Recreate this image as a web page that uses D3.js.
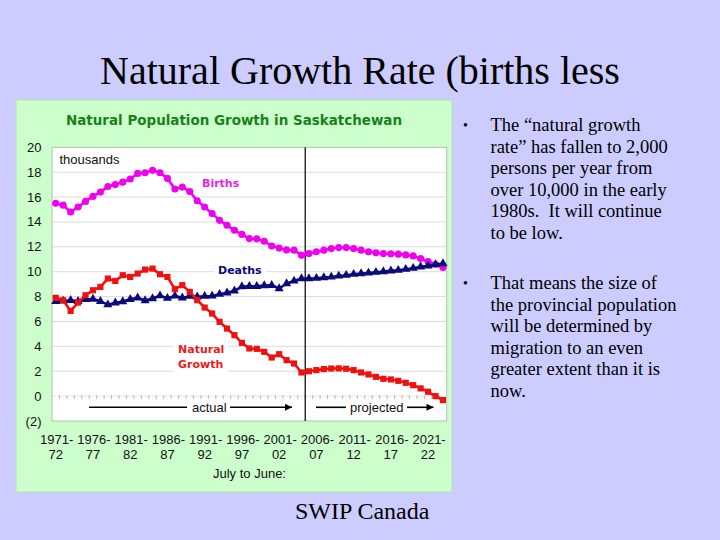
<!DOCTYPE html>
<html><head><meta charset="utf-8">
<script src="https://cdn.jsdelivr.net/npm/d3@7"></script>
<style>
html,body{margin:0;padding:0;background:#ccccff;}
svg{display:block;}
</style></head>
<body>
<svg id="c" width="720" height="540"></svg>
<script>
const years = d3.range(1971, 2024);
const births = [15.5,15.35,14.8,15.2,15.65,16.05,16.4,16.85,17.0,17.2,17.45,17.9,17.95,18.15,17.95,17.5,16.65,16.8,16.45,15.7,15.2,14.67,14.13,13.73,13.33,13.0,12.66,12.64,12.45,12.07,11.9,11.75,11.73,11.33,11.46,11.6,11.73,11.86,11.94,11.94,11.86,11.73,11.6,11.51,11.46,11.44,11.41,11.35,11.27,11.06,10.82,10.6,10.34];
const deaths = [7.62,7.65,7.7,7.62,7.77,7.8,7.62,7.35,7.5,7.6,7.78,7.9,7.68,7.84,8.07,7.87,8.05,7.9,8.03,7.98,8.03,8.05,8.19,8.3,8.46,8.8,8.83,8.83,8.89,8.91,8.65,9.05,9.26,9.45,9.45,9.48,9.53,9.58,9.66,9.72,9.8,9.85,9.9,9.96,10.01,10.07,10.12,10.2,10.28,10.39,10.47,10.58,10.66];
const naturalGrowth = [7.9,7.71,6.85,7.52,8.11,8.51,8.78,9.45,9.26,9.72,9.58,9.85,10.17,10.25,9.8,9.58,8.6,8.92,8.38,7.71,7.12,6.64,5.97,5.43,4.9,4.28,3.83,3.8,3.56,3.1,3.37,2.89,2.62,1.9,2.0,2.09,2.17,2.22,2.23,2.2,2.09,1.9,1.74,1.55,1.39,1.34,1.23,1.07,0.88,0.62,0.35,0.0,-0.32];
const yTicks = [20,18,16,14,12,10,8,6,4,2,0,-2];
const labelYears = [1971,1976,1981,1986,1991,1996,2001,2006,2011,2016,2021];
const firstProjected = 2005;
const bullets = [
  ["The \u201cnatural growth","rate\u201d has fallen to 2,000","persons per year from","over 10,000 in the early","1980s.  It will continue","to be low."],
  ["That means the size of","the provincial population","will be determined by","migration to an even","greater extent than it is","now."]
];

const svg = d3.select("#c");
const serif = "'Liberation Serif','Times New Roman',serif";
const sans = "'Liberation Sans',Arial,sans-serif";
const verd = "'DejaVu Sans',Verdana,sans-serif";

// slide title
svg.append("text").attr("x",360).attr("y",84).attr("text-anchor","middle")
  .attr("font-family",serif).attr("font-size",40).attr("fill","#000")
  .text("Natural Growth Rate (births less");

// chart panel
svg.append("rect").attr("x",16).attr("y",100).attr("width",436).attr("height",392)
  .attr("fill","#ccffcc").attr("stroke","#b8e0b8").attr("stroke-width",1);

svg.append("text").attr("x",66).attr("y",125).attr("font-family",verd).attr("font-weight","bold")
  .attr("font-size",14).attr("fill","#1a801a").attr("textLength",336).attr("lengthAdjust","spacingAndGlyphs")
  .text("Natural Population Growth in Saskatchewan");

const L=52, R=446.7, T=147.3, B=421;
const x = d3.scaleBand().domain(years).range([L,R]).padding(0);
const cx = d => x(d)+x.bandwidth()/2;
const y = d3.scaleLinear().domain([-2,20]).range([B,T]);

svg.append("rect").attr("x",L).attr("y",T).attr("width",R-L).attr("height",B-T).attr("fill","#fff");

// grid
svg.append("g").selectAll("line").data(yTicks.filter(v=>v>-2 && v<20 && v!==0)).join("line")
  .attr("x1",L).attr("x2",R).attr("y1",d=>y(d)).attr("y2",d=>y(d))
  .attr("stroke","#dcdcdc").attr("stroke-width",1);
// zero line with category ticks
svg.append("line").attr("x1",L).attr("x2",R).attr("y1",y(0)).attr("y2",y(0)).attr("stroke","#e4e4e4");
svg.append("g").selectAll("line").data(years.slice(1)).join("line")
  .attr("x1",d=>x(d)).attr("x2",d=>x(d)).attr("y1",y(0)-1).attr("y2",y(0)+3)
  .attr("stroke","#b8b8b8").attr("stroke-width",1);

svg.append("rect").attr("x",L).attr("y",T).attr("width",R-L).attr("height",B-T)
  .attr("fill","none").attr("stroke","#a8c8a8").attr("stroke-width",1);

// y labels
svg.append("g").selectAll("text").data(yTicks).join("text")
  .attr("x",41.5).attr("y",d=>y(d)+4.5).attr("text-anchor","end")
  .attr("font-family",sans).attr("font-size",13).attr("fill","#111")
  .text(d=>d<0?`(${-d})`:d);

// x labels
const xl = svg.append("g").selectAll("text").data(labelYears).join("text")
  .attr("text-anchor","middle").attr("font-family",sans).attr("font-size",13).attr("fill","#111");
xl.append("tspan").attr("x",d=>cx(d)+1).attr("y",444).text(d=>d+"-");
xl.append("tspan").attr("x",d=>cx(d)).attr("y",459).text(d=>String(d+1).slice(2));
svg.append("text").attr("x",213).attr("y",478).attr("font-family",sans).attr("font-size",13).attr("fill","#111").text("July to June:");

svg.append("text").attr("x",59.5).attr("y",164).attr("font-family",sans).attr("font-size",13).attr("fill","#111").text("thousands");

// divider
const divX = x(firstProjected);
svg.append("line").attr("x1",divX).attr("x2",divX).attr("y1",T).attr("y2",B).attr("stroke","#000").attr("stroke-width",1.2);

// arrows
const defs = svg.append("defs");
defs.append("marker").attr("id","ah").attr("viewBox","0 0 10 10").attr("refX",10).attr("refY",5)
  .attr("markerWidth",9).attr("markerHeight",7).attr("markerUnits","userSpaceOnUse").attr("orient","auto")
  .append("path").attr("d","M0,0L10,5L0,10Z").attr("fill","#000");
const ay = 407.3;
function seg(x1,x2,arrow){
  const l = svg.append("line").attr("x1",x1).attr("x2",x2).attr("y1",ay).attr("y2",ay).attr("stroke","#000").attr("stroke-width",1.6);
  if(arrow) l.attr("marker-end","url(#ah)");
}
seg(89,187,false); seg(230,292,true);
svg.append("text").attr("x",192).attr("y",412).attr("font-family",sans).attr("font-size",13).attr("fill","#111").text("actual");
seg(316,346,false); seg(407,433.5,true);
svg.append("text").attr("x",350).attr("y",412).attr("font-family",sans).attr("font-size",13).attr("fill","#111").text("projected");

// series
const series = [
  {vals:births, color:"#f000f0", sym:d3.symbolCircle, size:40},
  {vals:deaths, color:"#0a0a78", sym:d3.symbolTriangle, size:36},
  {vals:naturalGrowth, color:"#f01010", sym:d3.symbolSquare, size:38}
];
const line = d3.line().x((d,i)=>cx(years[i])).y(d=>y(d));
series.forEach(s=>{
  svg.append("path").datum(s.vals).attr("d",line).attr("fill","none").attr("stroke",s.color).attr("stroke-width",2.6).attr("stroke-linejoin","round");
  svg.append("g").selectAll("path").data(s.vals).join("path")
    .attr("transform",(d,i)=>`translate(${cx(years[i])},${y(d)})`)
    .attr("d",d3.symbol().type(s.sym).size(s.size)).attr("fill",s.color);
});

// series labels with white boxes
function lab(lines,x0,y0,color,w){
  svg.append("rect").attr("x",x0-4).attr("y",y0-12).attr("width",w+8).attr("height",lines.length*15+2).attr("fill","#fff");
  lines.forEach((t,i)=>svg.append("text").attr("x",x0).attr("y",y0+i*15).attr("font-family",verd).attr("font-weight","bold")
    .attr("font-size",11).attr("fill",color).text(t));
}
lab(["Births"],202,187,"#e622e6",37);
lab(["Deaths"],218,274,"#0a0a78",44);
lab(["Natural","Growth"],178,353,"#ee1a1a",46);

// bullets
const bx = 490.5;
const starts = [131, 289];
bullets.forEach((b,k)=>{
  svg.append("text").attr("x",463).attr("y",starts[k]-1).attr("font-family",serif).attr("font-size",14).text("\u2022");
  b.forEach((t,i)=>svg.append("text").attr("x",bx).attr("y",starts[k]+i*21.6).attr("font-family",serif)
    .attr("font-size",18.5).attr("fill","#000").attr("xml:space","preserve").style("white-space","pre").text(t));
});

svg.append("text").attr("x",295).attr("y",519).attr("font-family",serif).attr("font-size",24).attr("fill","#000").text("SWIP Canada");
</script>
</body></html>
